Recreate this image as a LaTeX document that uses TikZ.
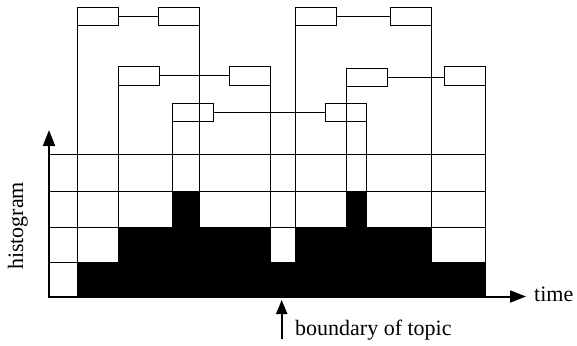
\documentclass[tikz,border=0pt]{standalone}
\usepackage{fontspec}
\setmainfont{Liberation Serif}
\usetikzlibrary{arrows.meta}
\begin{document}
\begin{tikzpicture}[x=1pt,y=-1pt,
  box/.style={draw, line width=1pt, minimum width=41pt, minimum height=18.4pt, inner sep=0pt, outer sep=0pt, anchor=north west},
  ln/.style={line width=1pt},
  hist/.style={fill=black},
  axis/.style={line width=2pt, line join=miter},
  lbl/.style={font=\fontsize{22}{26}\selectfont, inner sep=0pt}]
\useasboundingbox (0,0) rectangle (577,345);
% axis coordinates
\coordinate (O) at (49,296.5);
\coordinate (xend) at (526,296.5);
\coordinate (ytop) at (49,130);
% boxes
\node[box] (A) at (77.3,7.3) {};
\node[box] (B) at (158.3,7.3) {};
\node[box] (C) at (118.3,66.7) {};
\node[box] (D) at (229.8,66.7) {};
\node[box] (E) at (172.7,103.5) {};
\node[box] (F) at (295.7,7.3) {};
\node[box] (G) at (390.3,7.3) {};
\node[box] (H) at (346,68) {};
\node[box] (I) at (444,66.7) {};
\node[box] (J) at (325,103.5) {};
% links between boxes
\draw[ln] (A) -- (B);
\draw[ln] (C) -- (D);
\draw[ln] (E) -- (J);
\draw[ln] (F) -- (G);
\draw[ln] (H.east) -- (H.east -| I.west);
% grid lines
\foreach \yy in {154.3,191.7,227.3,262.3}
  \draw[ln] (49,\yy) -- (485,\yy);
% vertical lines from boxes to the axis
\draw[ln] (A.south west) -- (A.south west |- O);
\draw[ln] (B.south east) -- (B.south east |- O);
\draw[ln] (C.south west) -- (C.south west |- O);
\draw[ln] (D.south east) -- (D.south east |- O);
\draw[ln] (E.south west) -- (E.south west |- O);
\draw[ln] (F.south west) -- (F.south west |- O);
\draw[ln] (G.south east) -- (G.south east |- O);
\draw[ln] (H.south west) -- (H.south west |- O);
\draw[ln] (I.south east) -- (I.south east |- O);
\draw[ln] (J.south east) -- (J.south east |- O);
% histogram
\fill[hist] (77.3,296.5) -- (77.3,262.3) -- (118.3,262.3) -- (118.3,227.3)
  -- (172.7,227.3) -- (172.7,191.7) -- (199.3,191.7) -- (199.3,227.3)
  -- (270.8,227.3) -- (270.8,262.3) -- (295.7,262.3) -- (295.7,227.3)
  -- (346,227.3) -- (346,191.7) -- (366,191.7) -- (366,227.3)
  -- (431.3,227.3) -- (431.3,262.3) -- (485,262.3) -- (485,296.5) -- cycle;
% axes
\draw[axis, {Triangle[length=16pt,width=12pt]}-{Triangle[length=16pt,width=12pt]}] (ytop) -- (O) -- (xend);
% boundary arrow
\coordinate (b0) at (281.7,339);
\coordinate (b1) at (281.7,300);
\draw[line width=2.2pt, -{Triangle[length=14pt,width=11pt]}] (b0) -- (b1);
% labels
\node[lbl, anchor=base west] (time) at (534,301) {time};
\node[lbl, anchor=base west] (bnd) at (295,335) {boundary of topic};
\node[lbl, rotate=90, anchor=base] (hist) at (23,226) {histogram};
\end{tikzpicture}
\end{document}
